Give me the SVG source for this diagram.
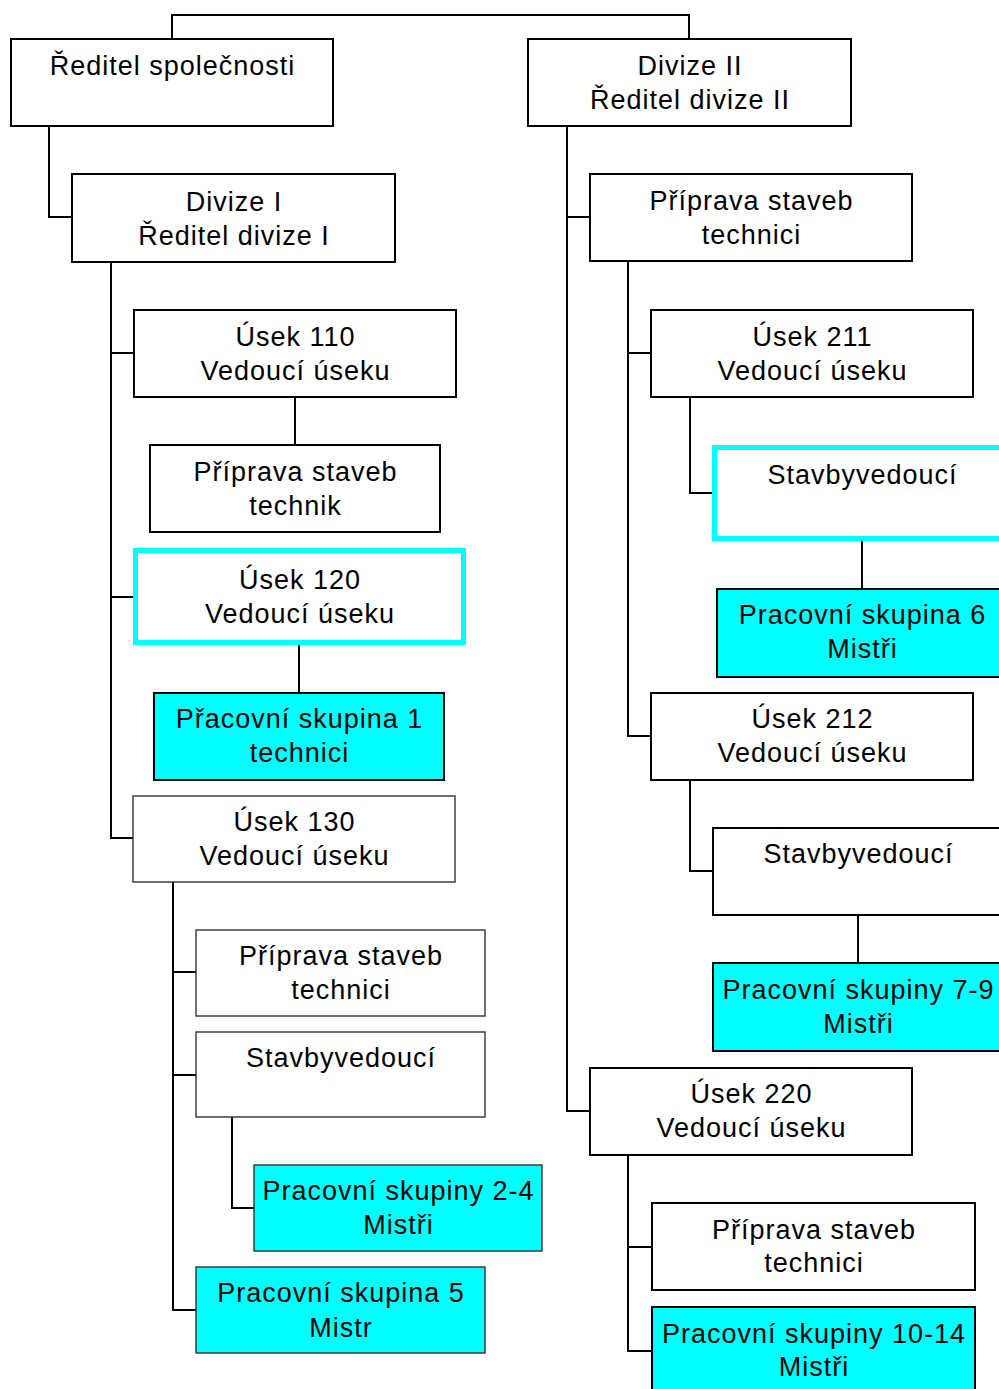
<svg xmlns="http://www.w3.org/2000/svg" width="999" height="1389" viewBox="0 0 999 1389">
<style>
.b{fill:#fff;stroke:#000;stroke-width:2}
.t{fill:#fff;stroke:#333;stroke-width:1.4}
.c{fill:#0ff;stroke:#000;stroke-width:2}
.ct{fill:#0ff;stroke:#333;stroke-width:1.4}
.h{fill:#fff;stroke:#0ff;stroke-width:5}
text{font-family:"Liberation Sans",Arial,sans-serif;font-size:27px;letter-spacing:1px;fill:#000;text-anchor:middle}
.conn path{fill:none;stroke:#000;stroke-width:2}
</style>
<rect width="999" height="1389" fill="#fff"/>
<g class="conn" id="connectors">
<path d="M172,39V15H689V39"/>
<path d="M49,126V217H72"/>
<path d="M111,262V838H133M111,353H134M111,597H133"/>
<path d="M295,397V445"/>
<path d="M299,645V693"/>
<path d="M173,882V1310H196M173,972H196M173,1075H196"/>
<path d="M232,1117V1208H254"/>
<path d="M567,126V1111H590M567,217H590"/>
<path d="M628,261V736H651M628,353H651"/>
<path d="M690,397V493H712"/>
<path d="M862,541V589"/>
<path d="M690,780V871H713"/>
<path d="M858,915V963"/>
<path d="M628,1155V1351H652M628,1247H652"/>
</g>
<g id="n1"><rect class="b" x="11" y="39" width="322" height="87"/><text x="172.5" y="75">Ředitel společnosti</text></g>
<g id="n2"><rect class="b" x="72" y="174" width="323" height="88"/><text x="234" y="211">Divize I</text><text x="234" y="245">Ředitel divize I</text></g>
<g id="n3"><rect class="b" x="134" y="310" width="322" height="87"/><text x="295.5" y="346">Úsek 110</text><text x="295.5" y="380">Vedoucí úseku</text></g>
<g id="n4"><rect class="b" x="150" y="445" width="290" height="87"/><text x="295.5" y="481">Příprava staveb</text><text x="295.5" y="515">technik</text></g>
<g id="n5"><rect class="h" x="135.5" y="550.5" width="328" height="92"/><text x="300" y="589">Úsek 120</text><text x="300" y="623">Vedoucí úseku</text></g>
<g id="n6"><rect class="c" x="154" y="693" width="290" height="87"/><text x="299.5" y="728">Přacovní skupina 1</text><text x="299.5" y="762">technici</text></g>
<g id="n7"><rect class="t" x="133" y="796" width="322" height="86"/><text x="294.5" y="831">Úsek 130</text><text x="294.5" y="865">Vedoucí úseku</text></g>
<g id="n8"><rect class="t" x="196" y="930" width="289" height="86"/><text x="341" y="965">Příprava staveb</text><text x="341" y="999">technici</text></g>
<g id="n9"><rect class="t" x="196" y="1032" width="289" height="85"/><text x="341" y="1067">Stavbyvedoucí</text></g>
<g id="n10"><rect class="ct" x="254" y="1165" width="288" height="86"/><text x="398.5" y="1200">Pracovní skupiny 2-4</text><text x="398.5" y="1234">Mistři</text></g>
<g id="n11"><rect class="ct" x="196" y="1267" width="289" height="86"/><text x="341" y="1302">Pracovní skupina 5</text><text x="341" y="1337">Mistr</text></g>
<g id="n12"><rect class="b" x="528" y="39" width="323" height="87"/><text x="690" y="75">Divize II</text><text x="690" y="109">Ředitel divize II</text></g>
<g id="n13"><rect class="b" x="590" y="174" width="322" height="87"/><text x="751.5" y="210">Příprava staveb</text><text x="751.5" y="244">technici</text></g>
<g id="n14"><rect class="b" x="651" y="310" width="322" height="87"/><text x="812.5" y="346">Úsek 211</text><text x="812.5" y="380">Vedoucí úseku</text></g>
<g id="n15"><rect class="h" x="714.5" y="447.5" width="300" height="91"/><text x="862.5" y="484">Stavbyvedoucí</text></g>
<g id="n16"><rect class="c" x="717" y="589" width="300" height="88"/><text x="862.5" y="624">Pracovní skupina 6</text><text x="862.5" y="658">Mistři</text></g>
<g id="n17"><rect class="b" x="651" y="693" width="322" height="87"/><text x="812.5" y="728">Úsek 212</text><text x="812.5" y="762">Vedoucí úseku</text></g>
<g id="n18"><rect class="b" x="713" y="828" width="300" height="87"/><text x="858.5" y="863">Stavbyvedoucí</text></g>
<g id="n19"><rect class="c" x="713" y="963" width="300" height="88"/><text x="858.5" y="999">Pracovní skupiny 7-9</text><text x="858.5" y="1033">Mistři</text></g>
<g id="n20"><rect class="b" x="590" y="1068" width="322" height="87"/><text x="751.5" y="1103">Úsek 220</text><text x="751.5" y="1137">Vedoucí úseku</text></g>
<g id="n21"><rect class="b" x="652" y="1203" width="323" height="87"/><text x="814" y="1239">Příprava staveb</text><text x="814" y="1272">technici</text></g>
<g id="n22"><rect class="c" x="652" y="1307" width="323" height="100"/><text x="814" y="1343">Pracovní skupiny 10-14</text><text x="814" y="1376">Mistři</text></g>
</svg>
